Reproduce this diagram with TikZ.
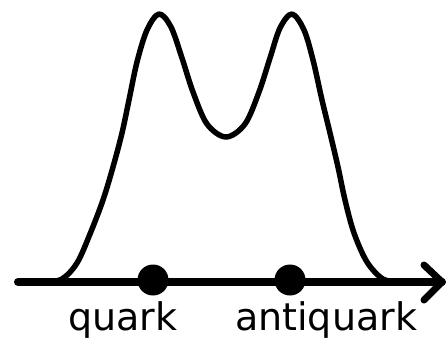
\documentclass[tikz,border=0pt]{standalone}
\usepackage{fontspec}
\setmainfont{DejaVu Sans}
\begin{document}
\begin{tikzpicture}[x=1pt,y=-1pt,
  curve/.style={line width=5.5pt,line cap=round,line join=round},
  axisline/.style={line width=8pt,line cap=round},
  tipline/.style={line width=7pt,line cap=round,line join=round},
  particle/.style={circle,fill=black,minimum size=31pt,inner sep=0pt},
  lbl/.style={font=\fontsize{38}{42}\selectfont,anchor=base}]
\useasboundingbox (0,0) rectangle (447,345);
\coordinate (axL) at (18,282);
\coordinate (axR) at (442,282);
\coordinate (tipU) at (424,265);
\coordinate (tipD) at (424,300);
\draw[curve] plot[smooth,tension=0.55] coordinates {
  (45,282) (62,279) (77,263) (90,234) (103,200) (113,167) (122,133) (129,100)
  (137,62) (147,30) (159,14) (171,27) (182,58) (193,92) (207,124) (226,137)
  (245,124) (259,92) (270,58) (280,28) (292,14) (304,30) (313,60) (322,100)
  (330,133) (338,167) (345,200) (354,233) (367,262) (383,279) (400,282)};
\draw[axisline] (axL) -- (axR);
\draw[tipline] (tipU) -- (axR) -- (tipD);
\node[particle] (q) at (153,280) {};
\node[particle] (aq) at (290,280) {};
\node[lbl] (ql) at (123,330) {quark};
\node[lbl] (aql) at (326,330) {antiquark};
\end{tikzpicture}
\end{document}
